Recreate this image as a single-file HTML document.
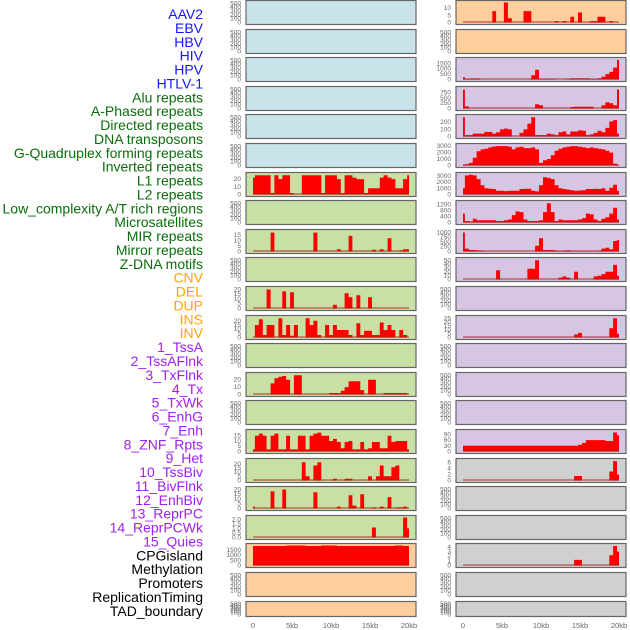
<!DOCTYPE html>
<html><head><meta charset="utf-8"><style>
html,body{margin:0;padding:0;background:#fff;}
svg{display:block;font-family:"Liberation Sans",sans-serif;}
</style></head><body>
<svg id="chart" width="630" height="630" viewBox="0 0 630 630"></svg>
<script>
const binsKb=[0,0.5,1,1.5,2,2.5,3,3.5,4,4.5,5,5.5,6,6.5,7,7.5,8,8.5,9,9.5,10,10.5,11,11.5,12,12.5,13,13.5,14,14.5,15,15.5,16,16.5,17,17.5,18,18.5,19,19.5,20];
const xTickKb=[0,5,10,15,20];
const xTickLabels=["0","5kb","10kb","15kb","20kb"];
const trackLabels=["AAV2","EBV","HBV","HIV","HPV","HTLV-1","Alu repeats","A-Phased repeats","Directed repeats","DNA transposons","G-Quadruplex forming repeats","Inverted repeats","L1 repeats","L2 repeats","Low_complexity A/T rich regions","Microsatellites","MIR repeats","Mirror repeats","Z-DNA motifs","CNV","DEL","DUP","INS","INV","1_TssA","2_TssAFlnk","3_TxFlnk","4_Tx","5_TxWk","6_EnhG","7_Enh","8_ZNF_Rpts","9_Het","10_TssBiv","11_BivFlnk","12_EnhBiv","13_ReprPC","14_ReprPCWk","15_Quies","CPGisland","Methylation","Promoters","ReplicationTiming","TAD_boundary"];
const labelColors=["#1515ff","#1515ff","#1515ff","#1515ff","#1515ff","#1515ff","#0a6e0a","#0a6e0a","#0a6e0a","#0a6e0a","#0a6e0a","#0a6e0a","#0a6e0a","#0a6e0a","#0a6e0a","#0a6e0a","#0a6e0a","#0a6e0a","#0a6e0a","#ffa500","#ffa500","#ffa500","#ffa500","#ffa500","#a020f0","#a020f0","#a020f0","#a020f0","#a020f0","#a020f0","#a020f0","#a020f0","#a020f0","#a020f0","#a020f0","#a020f0","#a020f0","#a020f0","#a020f0","#000","#000","#000","#000","#000"];
const emptyTicks=[0,100,200,300,400,500];
const leftL1=[22,25,25,25,25,2,25,20,25,25,2,0,0,25,25,25,25,25,2,25,25,25,20,2,25,25,22,20,20,2,8,8,8,22,25,22,20,8,8,20,25];
const leftMir=[0,0,0,0,0,17,0,0,0,0,0,0,0,0,0,0,17,0,0,0,0,0,2,0,0,14,0,0,0,0,0,1.5,0,2,0,12,0,0,1,2,2];
const leftDel=[0,0,0,0,20,0,0,0,18,0,17,0,0,0,0,0,0,0,0,0,0,4,0,0,16,12,0,14,0,0,12,0,0,0,0,0,0,0,0,0,0];
const leftIns=[0,15,22,3,15,15,0,23,3,15,2,15,0,0,23,15,20,3,0,15,3,15,9,9,9,3,0,17,3,8,8,3,3,18,9,15,9,0,9,3,0];
const leftTx=[0,0,0,0,0,15,22,24,25,20,0,26,26,0,0,0,0,0,0,0,2,2,2,5,10,18,18,18,6,0,20,20,0,0,2,2,2,2,2,2,0];
const leftZnf=[2,15,17,15,2,15,17,2,2,15,2,2,15,15,2,15,17,18,15,15,10,12,9,3,9,10,2,2,9,2,3,9,9,3,3,15,9,10,10,10,2];
const leftHet=[0,0,0,0,0,0,0,0,0,0,0,0,0,22,5,0,18,22,0,0,0,2,0,0,2,2,0,0,0,0,5,0,5,18,5,5,16,18,0,0,0];
const leftBiv=[2,0,0,0,0,18,0,0,20,0,0,0,0,0,0,0,17,0,0,0,0,0,2,0,0,14,3,0,15,0,0,1,0,2,0,12,0,1,1,2,0];
const leftRepr=[0,0,0,0,0,0,0,0,0,0,0,0,0,0,0,0,0,0,0,0,0,0,0,0,0,0,0,0,0,0,0,1.1,0,0,0,0,0,0,0,2.2,1];
const leftCpg=[1900,1900,1900,1900,1900,1900,1900,1900,1900,1950,1950,1950,1950,1950,1900,1900,1900,1900,1950,1950,1950,1950,1900,1900,1900,1900,1900,1900,1900,1900,1900,1900,1900,1900,1900,1900,1900,1950,1950,1900,1900];
const rightAav=[0,0,0,0,0,0,0,0,8,0,0,14,3,0,0,0,8,8,0,0,0,0,0,0,1,0,1,0,4,0,7,0,0,1,1,4,4,0,1,0,0];
const rightHiv=[200,50,80,80,80,0,0,0,0,0,0,0,0,0,0,0,0,0,400,900,50,50,50,50,0,0,0,50,100,100,100,100,100,50,50,100,250,500,700,1100,1800];
const rightHpv=[900,100,0,0,0,0,0,0,0,0,0,0,0,0,0,0,0,0,0,200,150,0,0,0,0,0,0,0,70,80,80,80,80,80,0,0,150,300,250,150,900];
const rightAlu=[270,20,20,40,40,40,65,65,40,60,100,110,100,0,0,50,100,180,270,20,20,20,40,30,20,60,70,30,70,70,85,80,20,30,50,80,60,120,210,230,40];
const rightApha=[150,200,400,1200,2200,2500,2600,2800,2950,3000,3000,3000,2900,2500,2800,2900,2700,2700,2800,2500,400,800,1000,1600,2300,2600,2800,2900,3000,3000,2900,2800,2700,2800,2700,2600,2500,2300,2000,300,100];
const rightDir=[1000,3100,3200,3100,2500,1500,1000,950,900,600,600,550,600,600,600,900,950,950,600,500,1500,2800,2700,2500,1500,1000,900,800,700,600,650,700,900,900,950,900,1000,600,1100,1600,600];
const rightDna=[600,100,50,250,150,150,150,150,150,100,100,150,200,500,750,700,200,100,100,100,150,700,1300,700,100,200,150,150,150,150,200,300,600,550,200,100,250,350,600,1000,200];
const rightGq=[1000,150,80,80,50,30,0,0,0,0,0,0,0,0,0,0,0,0,0,300,700,80,80,80,40,20,40,60,20,20,20,20,20,20,20,40,150,200,120,550,600];
const rightInv=[0,0,0,0,0,0,0,0,0,24,0,0,0,0,0,0,0,28,28,50,0,0,0,0,0,5,8,5,0,20,0,0,0,0,8,10,14,20,20,38,10];
const rightL2=[0,0,0,0,0,0,0,0,0,0,0,0,0,0,0,0,0,0,0,0,0,0,0,0,0,0,0,0,0,4,6,0,0,0,0,0,0,0,12,25,5];
const rightMicro=[30,30,30,30,30,30,30,30,30,30,30,30,30,30,30,30,30,30,30,30,30,30,30,30,30,30,30,30,30,30,35,45,60,60,60,60,60,55,55,100,85];
const rightMirror=[0,0,0,0,0,0,0,0,0,0,0,0,0,0,0,0,0,0,0,0,0,0,0,0,0,0,0,0,0,1.5,1.5,0,0,0,0,0,0,0,3,6.5,2];
const rightZdna=[0,0,0,0,0,0,0,0,0,0,0,0,0,0,0,0,0,0,0,0,0,0,0,0,0,0,0,0,0,1.2,1.2,0,0,0,0,0,0,0,2.2,4.2,3];

const BLUE="#c9e3eb",GREEN="#c8e0a3",ORANGE="#fecf9d",LILAC="#d6c5e3",GRAY="#d0d0d0";
// [values, ymax, ticks, bg]
const leftPanels=[
 [null,520,emptyTicks,BLUE],[null,520,emptyTicks,BLUE],[null,520,emptyTicks,BLUE],[null,520,emptyTicks,BLUE],[null,520,emptyTicks,BLUE],[null,520,emptyTicks,BLUE],
 [leftL1,26,[0,10,20],GREEN],[null,520,emptyTicks,GREEN],[leftMir,18,[0,5,10,15],GREEN],[null,520,emptyTicks,GREEN],
 [leftDel,21,[0,5,10,15,20],GREEN],[leftIns,24,[0,5,10,15,20],GREEN],[null,520,emptyTicks,GREEN],[leftTx,27,[0,10,20],GREEN],
 [null,520,emptyTicks,GREEN],[leftZnf,19,[0,5,10,15],GREEN],[leftHet,24,[0,5,10,15,20],GREEN],[leftBiv,21,[0,5,10,15,20],GREEN],
 [leftRepr,2.2,[0,0.5,1,1.5,2],GREEN],[leftCpg,1950,[0,500,1000,1500],ORANGE],[null,520,emptyTicks,ORANGE],[null,520,emptyTicks,ORANGE]];
const rightPanels=[
 [rightAav,14,[0,5,10],ORANGE],[null,520,emptyTicks,ORANGE],
 [rightHiv,1850,[0,500,1000,1500],LILAC],[rightHpv,950,[0,250,500,750],LILAC],[rightAlu,280,[0,100,200],LILAC],
 [rightApha,3100,[0,1000,2000,3000],LILAC],[rightDir,3250,[0,1000,2000,3000],LILAC],[rightDna,1350,[0,400,800,1200],LILAC],
 [rightGq,1050,[0,250,500,750,1000],LILAC],[rightInv,52,[0,10,20,30,40,50],LILAC],[null,520,emptyTicks,LILAC],
 [rightL2,26,[0,5,10,15,20,25],LILAC],[null,520,emptyTicks,LILAC],[null,520,emptyTicks,LILAC],[null,520,emptyTicks,LILAC],
 [rightMicro,105,[0,30,60,90],LILAC],[rightMirror,6.7,[0,2,4,6],GRAY],[null,520,emptyTicks,GRAY],[null,520,emptyTicks,GRAY],
 [rightZdna,4.3,[0,1,2,3,4],GRAY],[null,520,emptyTicks,GRAY],[null,520,emptyTicks,GRAY]];

const NS="http://www.w3.org/2000/svg";
const svg=document.getElementById('chart');
function mk(tag,attrs,parent){const e=document.createElementNS(NS,tag);for(const k in attrs)e.setAttribute(k,attrs[k]);(parent||svg).appendChild(e);return e;}

// labels
trackLabels.forEach((t,i)=>{
  const e=mk('text',{x:203,y:14+i*13.88+5,'text-anchor':'end','font-size':'14',fill:labelColors[i]});
  
  
  e.textContent=t;
});

function drawColumn(panels,px,colName){
  const pw=170, x0=px+7, x1=px+163;
  const xs=kb=>x0+(kb/20)*(x1-x0);
  panels.forEach((p,i)=>{
    const top=Math.round(i*28.6);
    const h=(i===21)?16:25;
    const [vals,ymax,ticks,bg]=p;
    const g=mk('g',{});
    
    
    mk('rect',{x:px,y:top+0.5,width:pw,height:h-1,fill:bg,stroke:'#666','stroke-width':1.2},g);
    const yb=top+h-2.5, yt=top+2.5;
    const ys=v=>yb-(v/ymax)*(yb-yt);
    if(vals){
      let d='';
      vals.forEach((v,j)=>{
        if(v<=0)return;
        const a=Math.max(0,binsKb[j]-0.25),b=Math.min(20,binsKb[j]+0.25);
        d+='M'+xs(a).toFixed(1)+','+yb+'V'+ys(v).toFixed(1)+'H'+xs(b).toFixed(1)+'V'+yb+'Z';
      });
      const ar=mk('path',{d:d,fill:'#ff0000'},g);
      
      
      mk('line',{x1:xs(0),x2:xs(20),y1:yb-0.5,y2:yb-0.5,stroke:'rgba(170,30,30,0.6)','stroke-width':1.5},g);
    }
    ticks.forEach(t=>{
      const lab=(ymax<3)?t.toFixed(1):String(t);
      const tx=mk('text',{x:px-5,y:ys(t)+2,'text-anchor':'end','font-size':'6.5',fill:'#666'},g);
      
      
      tx.textContent=lab;
    });
  });
  xTickKb.forEach((k,i)=>{
    const tx=mk('text',{x:xs(k),y:628,'text-anchor':'middle','font-size':'7.5',fill:'#666'});
    
    
    tx.textContent=xTickLabels[i];
  });
}
drawColumn(leftPanels,246,'left');
drawColumn(rightPanels,456,'right');
</script>
</body></html>
